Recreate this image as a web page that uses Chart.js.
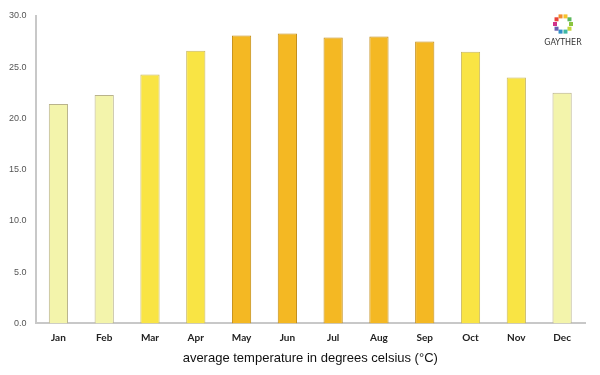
<!DOCTYPE html>
<html>
<head>
<meta charset="utf-8">
<style>
  html, body { margin: 0; padding: 0; background: #fff; }
  #wrap { width: 600px; height: 375px; position: relative; }
</style>
<script src="https://cdn.jsdelivr.net/npm/chart.js@4.4.0/dist/chart.umd.min.js"></script>
</head>
<body>
<div id="wrap"><canvas id="c"></canvas></div>
<script>
const months = ["Jan", "Feb", "Mar", "Apr", "May", "Jun", "Jul", "Aug", "Sep", "Oct", "Nov", "Dec"];
const temps = [21.4, 22.3, 24.3, 26.6, 28.1, 28.3, 27.9, 28.0, 27.5, 26.5, 24.0, 22.5];
const fills = ["#f3f4ab", "#f3f4ab", "#f9e444", "#f9e444", "#f4b823", "#f4b823", "#f4b823", "#f4b823", "#f4b823", "#f9e444", "#f9e444", "#f3f4ab"];
const borders = ["#b9b38c", "#b9b38c", "#c8b860", "#c8b860", "#c38d16", "#c38d16", "#c38d16", "#c38d16", "#c38d16", "#c8b860", "#c8b860", "#b9b38c"];
const logoColors = ["#8bc53f", "#c6d63b", "#3fb7a5", "#2f8fc9", "#6a5fb0", "#d1318a", "#e8423a", "#f28b2c", "#f6c22a", "#5cb85c"];

// small logo drawn at the top right
const logo = {
  id: "logo",
  afterDraw(chart) {
    const ctx = chart.ctx;
    const cx = 563, cy = 24, r = 8;
    logoColors.forEach((col, i) => {
      const a = i / logoColors.length * Math.PI * 2;
      ctx.fillStyle = col;
      ctx.fillRect(cx + Math.cos(a) * r - 2, cy + Math.sin(a) * r - 2, 4, 4);
    });
    ctx.fillStyle = "#333";
    ctx.font = "8px 'DejaVu Sans'";
    ctx.textAlign = "center";
    ctx.textBaseline = "middle";
    ctx.fillText("GAYTHER", cx, 43);
  }
};

new Chart(document.getElementById("c"), {
  type: "bar",
  data: {
    labels: months,
    datasets: [{
      data: temps,
      backgroundColor: fills,
      borderColor: borders,
      borderWidth: 1,
      categoryPercentage: 1,
      barPercentage: 0.42
    }]
  },
  options: {
    responsive: true,
    maintainAspectRatio: false,
    animation: false,
    layout: { padding: { left: 8, right: 15, top: 16, bottom: 5 } },
    plugins: {
      legend: { display: false },
      tooltip: { enabled: false }
    },
    scales: {
      x: {
        grid: { display: false },
        border: { color: "#c8c8c8", width: 2 },
        ticks: {
          color: "#222",
          font: { family: "Lato", size: 10, weight: "bold" },
          padding: 0
        },
        title: {
          display: true,
          text: "average temperature in degrees celsius (°C)",
          color: "#111",
          font: { family: "Liberation Sans", size: 13 },
          padding: { top: 7 }
        }
      },
      y: {
        min: 0,
        max: 30,
        grid: { display: false },
        border: { color: "#c8c8c8", width: 2 },
        ticks: {
          stepSize: 5,
          color: "#555",
          font: { family: "Liberation Sans", size: 9 },
          padding: 1,
          callback: v => v.toFixed(1)
        }
      }
    }
  },
  plugins: [logo]
});
</script>
</body>
</html>
